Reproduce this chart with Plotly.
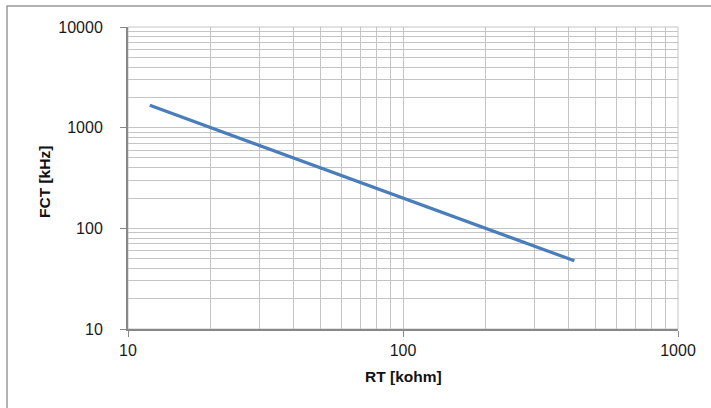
import plotly.graph_objects as go

rt_kohm = [12, 20, 50, 100, 200, 420]
fct_khz = [1667, 1000, 400, 200, 100, 47.6]

x_ticks = [10, 100, 1000]
x_tick_labels = ["10", "100", "1000"]
y_ticks = [10, 100, 1000, 10000]
y_tick_labels = ["10", "100", "1000", "10000"]
x_minor = [m * d for d in (10, 100) for m in range(2, 10)]
y_minor = [m * d for d in (10, 100, 1000) for m in range(2, 10)]

W, H = 711, 408
L, R, T, B = 128, 33, 27, 79
pw, ph = W - L - R, H - T - B


def px_x(p):
    return (p - L) / pw


def px_y(p):
    return (T + ph - p) / ph


fig = go.Figure()
fig.add_trace(go.Scatter(
    x=rt_kohm, y=fct_khz, mode="lines",
    line=dict(color="#4a7ebb", width=3.2),
    showlegend=False, hoverinfo="skip",
))

tickfont = dict(family="Liberation Sans, Arial, sans-serif", size=16, color="#1a1a1a")
titlefont = dict(family="Liberation Sans, Arial, sans-serif", size=15.5, color="#111", weight="bold")

GRID = "#c4c4c4"
common = dict(
    type="log", showgrid=True, gridcolor=GRID, gridwidth=1,
    showline=True, linecolor="#888888", linewidth=2,
    ticks="outside", ticklen=6, tickcolor="#888888", tickwidth=1,
    tickfont=tickfont, zeroline=False, mirror=False, tickmode="array",
)

fig.update_xaxes(
    range=[1, 3], tickvals=x_ticks, ticktext=x_tick_labels,
    minor=dict(tickmode="array", tickvals=x_minor, showgrid=True,
               gridcolor=GRID, gridwidth=1, ticks=""),
    **common,
)
fig.update_yaxes(
    range=[1, 4], tickvals=y_ticks, ticktext=y_tick_labels,
    minor=dict(tickmode="array", tickvals=y_minor, showgrid=True,
               gridcolor=GRID, gridwidth=1, ticks=""),
    ticklabelstandoff=14,
    **common,
)

fig.add_annotation(text="RT [kohm]", xref="paper", yref="paper",
                   x=0.5, y=px_y(376), xanchor="center", yanchor="middle",
                   showarrow=False, font=titlefont)
fig.add_annotation(text="FCT [kHz]", xref="paper", yref="paper",
                   x=px_x(44), y=px_y(182), xanchor="center", yanchor="middle",
                   textangle=-90, showarrow=False, font=titlefont)

# top/right plot edges
fig.add_shape(type="rect", xref="paper", yref="paper", x0=0, x1=1, y0=0, y1=1,
              line=dict(color=GRID, width=1), layer="below")

# outer chart border
fig.add_shape(type="rect", xref="paper", yref="paper",
              x0=px_x(7), x1=px_x(730), y0=px_y(430), y1=px_y(6),
              line=dict(color="#999999", width=1.5))

fig.update_layout(
    width=W, height=H,
    margin=dict(l=L, r=R, t=T, b=B),
    paper_bgcolor="white", plot_bgcolor="white",
)

fig.write_html("out.html", config={"displayModeBar": False},
               post_script="document.body.style.margin='0';document.body.style.overflow='hidden';")
